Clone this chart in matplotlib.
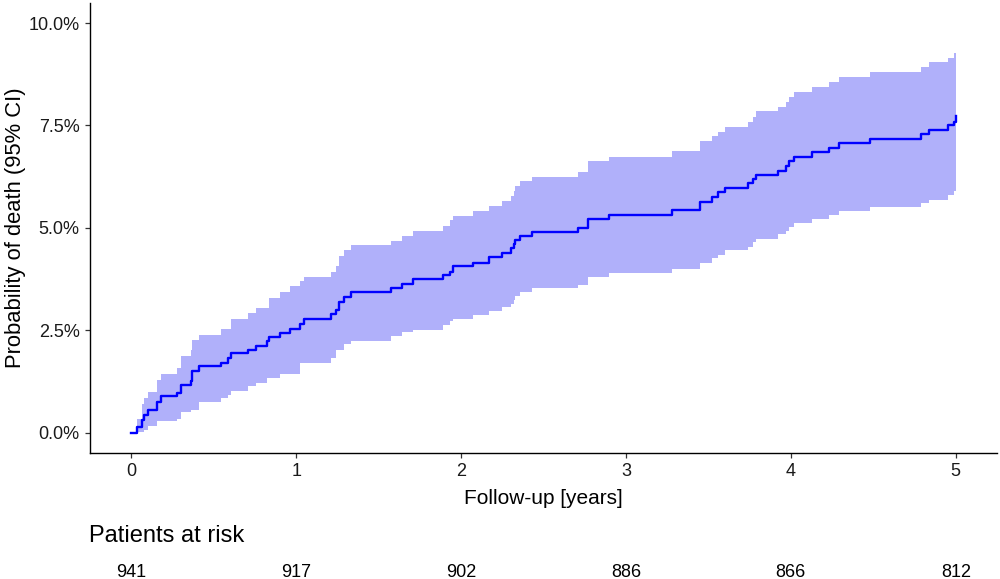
import matplotlib
matplotlib.use('Agg')
from matplotlib import pyplot as plt
from matplotlib import transforms
from matplotlib.ticker import FuncFormatter

plt.rcParams['font.family'] = ['Liberation Sans', 'DejaVu Sans']

# step times (years) and cumulative probability of death (%), with 95% CI
times = [0, 0.034, 0.065, 0.075, 0.10, 0.156, 0.18, 0.28, 0.30, 0.36, 0.37, 0.41,
         0.545, 0.586, 0.606, 0.707, 0.758, 0.822, 0.834, 0.90, 0.964, 1.026, 1.045,
         1.21, 1.24, 1.26, 1.29, 1.33, 1.576, 1.64, 1.71, 1.89, 1.93, 1.95, 2.07,
         2.17, 2.25, 2.30, 2.32, 2.33, 2.36, 2.43, 2.71, 2.77, 2.90, 3.28, 3.45,
         3.52, 3.56, 3.60, 3.74, 3.77, 3.79, 3.92, 3.97, 3.99, 4.02, 4.13, 4.23,
         4.29, 4.48, 4.79, 4.84, 4.95, 4.99, 5.00]
estimate = [0, 0.13, 0.30, 0.44, 0.54, 0.75, 0.89, 0.97, 1.17, 1.25, 1.50, 1.62,
            1.71, 1.82, 1.93, 2.01, 2.12, 2.23, 2.33, 2.44, 2.54, 2.66, 2.78,
            2.89, 3.00, 3.18, 3.30, 3.42, 3.53, 3.63, 3.75, 3.85, 3.93, 4.06, 4.15,
            4.28, 4.38, 4.50, 4.61, 4.71, 4.80, 4.89, 4.99, 5.21, 5.32, 5.44, 5.64,
            5.76, 5.87, 5.98, 6.09, 6.19, 6.29, 6.39, 6.51, 6.62, 6.74, 6.84, 6.96,
            7.07, 7.17, 7.29, 7.39, 7.50, 7.59, 7.73]
lower = [0, 0.02, 0.02, 0.07, 0.15, 0.28, 0.28, 0.33, 0.50, 0.56, 0.56, 0.75,
         0.85, 0.91, 1.02, 1.13, 1.21, 1.32, 1.32, 1.44, 1.44, 1.71, 1.71,
         1.82, 2.02, 2.02, 2.15, 2.24, 2.35, 2.45, 2.51, 2.62, 2.72, 2.78, 2.88,
         2.96, 3.07, 3.15, 3.24, 3.33, 3.42, 3.53, 3.61, 3.81, 3.90, 3.99, 4.15,
         4.26, 4.34, 4.46, 4.54, 4.65, 4.73, 4.85, 4.93, 5.03, 5.11, 5.21, 5.32,
         5.41, 5.50, 5.60, 5.68, 5.80, 5.90, 5.90]
upper = [0, 0.32, 0.70, 0.85, 0.99, 1.29, 1.43, 1.58, 1.86, 2.02, 2.27, 2.39,
         2.53, 2.53, 2.77, 2.92, 3.04, 3.04, 3.28, 3.42, 3.57, 3.69, 3.81,
         3.93, 4.07, 4.30, 4.45, 4.57, 4.68, 4.80, 4.93, 5.05, 5.18, 5.29, 5.41,
         5.54, 5.66, 5.78, 5.91, 6.03, 6.14, 6.25, 6.37, 6.63, 6.74, 6.88, 7.11,
         7.23, 7.35, 7.46, 7.58, 7.70, 7.84, 7.94, 8.06, 8.19, 8.31, 8.43, 8.55,
         8.67, 8.80, 8.92, 9.04, 9.15, 9.28, 9.28]

risk_years = [0, 1, 2, 3, 4, 5]
at_risk = [941, 917, 902, 886, 866, 812]

fig = plt.figure(figsize=(10, 5.79), dpi=100)
ax = fig.add_axes([0.09, 0.2176, 0.907, 0.778])

ax.fill_between(times, lower, upper, step='post', color='#b0b0fa', linewidth=0)
ax.step(times, estimate, where='post', color='#0000ff', linewidth=1.7)

ax.set_xlim(-0.25, 5.25)
ax.set_ylim(-0.5, 10.5)
ax.set_xticks(risk_years)
ax.set_yticks([0, 2.5, 5, 7.5, 10])
ax.yaxis.set_major_formatter(FuncFormatter(lambda v, _: f'{v:.1f}%'))

for side in ['top', 'right']:
    ax.spines[side].set_visible(False)
for side in ['left', 'bottom']:
    ax.spines[side].set_linewidth(1.0)
    ax.spines[side].set_color('black')
ax.tick_params(direction='out', length=3.5, width=0.9, color='#333333',
               labelsize=13, labelcolor='#1a1a1a', pad=4)

ax.set_xlabel('Follow-up [years]', fontsize=15, va='baseline')
ax.xaxis.set_label_coords(0.5, (453 - 503.5) / 450.5)
ax.set_ylabel('Probability of death (95% CI)', fontsize=15.8, va='baseline')
ax.yaxis.set_label_coords((20.7 - 90) / 907, 0.5)

# risk table under the plot
fig.text(0.089, 1 - 541.7 / 579, 'Patients at risk', fontsize=17, va='baseline', ha='left')
trans = transforms.blended_transform_factory(ax.transData, fig.transFigure)
for yr, n in zip(risk_years, at_risk):
    ax.text(yr, 1 - 576.7 / 579, str(n), transform=trans, ha='center', va='baseline',
            fontsize=13, clip_on=False)

fig.savefig('out.png', dpi=100)
